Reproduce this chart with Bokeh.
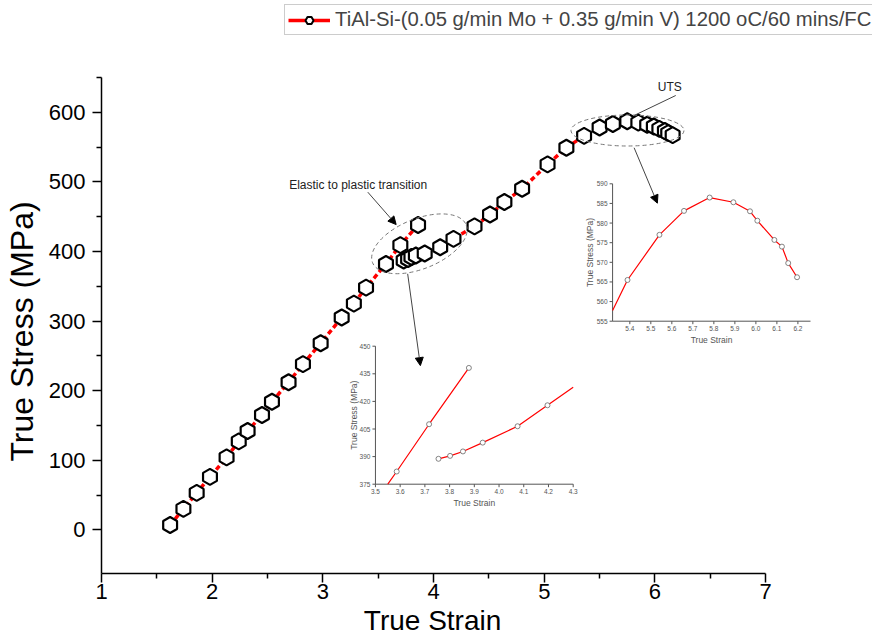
import math
from bokeh.plotting import figure
from bokeh.models import Range1d, FixedTicker, Legend, LegendItem, Arrow, NormalHead, Label
from bokeh.embed import file_html
from bokeh.resources import INLINE

# ---------------- data ----------------
# main curve, elastic branch
strain_elastic = [1.62, 1.74, 1.86, 1.98, 2.13, 2.24, 2.32, 2.45, 2.54, 2.69,
                  2.82, 2.98, 3.17, 3.28, 3.39, 3.57, 3.70, 3.86]
stress_elastic = [7, 30, 53, 76, 104, 127, 142, 165, 184, 212,
                  238, 268, 305, 325, 348, 382, 409, 438]
# main curve, plastic branch
strain_plastic = [3.73, 3.77, 3.80, 3.84, 3.92, 4.06, 4.18, 4.37, 4.51, 4.64,
                  4.80, 5.03, 5.20, 5.36, 5.50, 5.62, 5.75, 5.85, 5.93, 5.99,
                  6.04, 6.09, 6.12, 6.16]
stress_plastic = [387, 389, 392, 394, 397, 406, 418, 436, 453, 471,
                  490, 525, 549, 566, 578, 583, 587, 585, 582, 579.5,
                  576, 573, 570, 567]

x_ticks = [1, 2, 3, 4, 5, 6, 7]
x_minor = [1.5, 2.5, 3.5, 4.5, 5.5, 6.5]
y_ticks = [0, 100, 200, 300, 400, 500, 600]
y_minor = [50, 150, 250, 350, 450, 550, 650]

# inset 1: elastic-to-plastic transition
el_up_strain = [3.586, 3.717, 3.878]
el_up_stress = [381.9, 407.6, 438.2]
el_up_line_strain = [3.55, 3.586, 3.717, 3.878]
el_up_line_stress = [375.0, 381.9, 407.6, 438.2]
el_lo_strain = [3.755, 3.802, 3.854, 3.934, 4.075, 4.196]
el_lo_stress = [388.8, 390.4, 392.8, 397.6, 406.5, 417.9]
el_lo_line_strain = [3.755, 3.802, 3.854, 3.934, 4.075, 4.196, 4.30]
el_lo_line_stress = [388.8, 390.4, 392.8, 397.6, 406.5, 417.9, 427.7]
el_x_ticks = [3.5, 3.6, 3.7, 3.8, 3.9, 4.0, 4.1, 4.2, 4.3]
el_x_labels = ["3.5", "3.6", "3.7", "3.8", "3.9", "4.0", "4.1", "4.2", "4.3"]
el_y_ticks = [375, 390, 405, 420, 435, 450]
el_y_labels = ["375", "390", "405", "420", "435", "450"]

# inset 2: UTS region
uts_strain = [5.389, 5.541, 5.658, 5.780, 5.893, 5.972, 6.007, 6.088, 6.124, 6.154, 6.196]
uts_stress = [565.5, 577.0, 583.1, 586.5, 585.3, 583.0, 580.6, 575.7, 574.0, 569.8, 566.2]
uts_line_strain = [5.318] + uts_strain
uts_line_stress = [557.7] + uts_stress
uts_x_ticks = [5.4, 5.5, 5.6, 5.7, 5.8, 5.9, 6.0, 6.1, 6.2]
uts_x_labels = ["5.4", "5.5", "5.6", "5.7", "5.8", "5.9", "6.0", "6.1", "6.2"]
uts_y_ticks = [555, 560, 565, 570, 575, 580, 585, 590]
uts_y_labels = ["555", "560", "565", "570", "575", "580", "585", "590"]

LEGEND_TEXT = "TiAl-Si-(0.05 g/min Mo + 0.35 g/min V) 1200 oC/60 mins/FC"
X_TITLE = "True Strain"
Y_TITLE = "True Stress (MPa)"

# ---------------- layout ----------------
FONT = "Liberation Sans"
NBSP = "\u00a0"
W, H = 872, 638
LEFT, BOTTOM = 100, 65
FW, FH = W - LEFT, H - BOTTOM
PXX = 110.83   # px per strain unit (main)
PXY = 0.696    # px per MPa (main)
X0 = 1.0
Y0 = (529.3 - (H - BOTTOM)) / PXY   # stress value at the x-axis line

p = figure(width=W, height=H, title=None,
           x_range=Range1d(X0, X0 + FW / PXX), y_range=Range1d(Y0, Y0 + FH / PXY),
           min_border_left=LEFT, min_border_right=0, min_border_top=0,
           min_border_bottom=BOTTOM, output_backend="svg", toolbar_location=None)
p.grid.visible = False
p.outline_line_color = None

for ax in (p.xaxis[0], p.yaxis[0]):
    ax.axis_line_width = 1.5
    ax.axis_line_color = "black"
    ax.major_tick_line_color = "black"
    ax.minor_tick_line_color = "black"
    ax.major_tick_line_width = 1.5
    ax.minor_tick_line_width = 1.5
    ax.major_tick_out = 9
    ax.major_tick_in = 0
    ax.minor_tick_out = 5
    ax.minor_tick_in = 0
    ax.major_label_text_font = FONT
    ax.major_label_text_font_size = "22px"
    ax.major_label_text_color = "black"
    ax.axis_label_text_font = FONT
    ax.axis_label_text_font_style = "normal"
    ax.axis_label_text_color = "black"

# axis titles are centred on the frame; non-breaking padding moves them
# to the centre of the drawn axis line, as in the reference
p.xaxis.ticker = FixedTicker(ticks=x_ticks, minor_ticks=x_minor)
p.xaxis.bounds = (1, 7)
p.xaxis.axis_label = X_TITLE + NBSP * 14
p.xaxis.axis_label_text_font_size = "28px"
p.xaxis.major_label_standoff = 1
p.xaxis.axis_label_standoff = 3

p.yaxis.ticker = FixedTicker(ticks=y_ticks, minor_ticks=y_minor)
p.yaxis.bounds = (Y0, 650)
p.yaxis.axis_label = Y_TITLE + NBSP * 10
p.yaxis.axis_label_text_font_size = "32px"
p.yaxis.major_label_standoff = 7
p.yaxis.axis_label_standoff = 6

# ---------------- main series ----------------
RED = "#ff0000"
for xs, ys in ((strain_elastic, stress_elastic), (strain_plastic, stress_plastic)):
    p.line(xs, ys, line_color=RED, line_width=3.5, line_dash="5 3")
for xs, ys in ((strain_elastic, stress_elastic), (strain_plastic, stress_plastic)):
    p.scatter(xs, ys, marker="hex", size=16, angle=math.pi / 6,
              line_color="black", line_width=2.2, fill_color="white")

# legend sample (solid line + hexagon); the renderers hold no visible data
NAN = float("nan")
leg_line = p.line(x=[NAN, NAN], y=[NAN, NAN], line_color=RED, line_width=3.5)
leg_hex = p.scatter(x=[NAN], y=[NAN], marker="hex", size=14, angle=math.pi / 6,
                    line_color="black", line_width=2, fill_color="white")
legend = Legend(items=[LegendItem(label=LEGEND_TEXT, renderers=[leg_line, leg_hex])],
                location=(183, 538), border_line_color="#9a9a9a", border_line_width=1,
                glyph_width=42, glyph_height=20, label_height=20,
                label_text_font=FONT, label_text_font_size="20.3px",
                padding=3, margin=0, label_standoff=5, spacing=0)
p.add_layout(legend)

# ---------------- annotations on main plot ----------------
ANN = "#444444"
p.ellipse(x=[5.752], y=[573.7], width=113, height=31, width_units="screen",
          height_units="screen", angle=0, fill_color=None, line_color="#777777",
          line_dash="4 3", line_width=1)
p.ellipse(x=[3.872], y=[410.9], width=101, height=50, width_units="screen",
          height_units="screen", angle=math.radians(22), fill_color=None,
          line_color="#777777", line_dash="4 3", line_width=1)

p.add_layout(Label(x=6.134, y=636.9, text="UTS", text_font=FONT, text_font_size="12px",
                   text_align="center", text_baseline="middle", text_color="#222222"))
p.add_layout(Label(x=3.319, y=494.7, text="Elastic to plastic transition", text_font=FONT,
                   text_font_size="12px", text_align="center", text_baseline="middle",
                   text_color="#222222"))
p.add_layout(Arrow(x_start=6.188, y_start=624.0, x_end=5.812, y_end=595.3, end=None,
                   line_color=ANN, line_width=1))
p.add_layout(Arrow(x_start=5.812, y_start=548.9, x_end=6.022, y_end=469.3,
                   end=NormalHead(size=8, fill_color="black", line_color="black"),
                   line_color=ANN, line_width=1))
p.add_layout(Arrow(x_start=3.406, y_start=485.1, x_end=3.662, y_end=438.6,
                   end=NormalHead(size=8, fill_color="black", line_color="black"),
                   line_color=ANN, line_width=1))
p.add_layout(Arrow(x_start=3.766, y_start=367.8, x_end=3.881, y_end=235.9,
                   end=NormalHead(size=8, fill_color="black", line_color="black"),
                   line_color=ANN, line_width=1))


# ---------------- insets ----------------
def anchored_range(v0, p0, v1, p1, lo, hi, flip=False):
    """range so that value v0 sits at page pixel p0 and v1 at p1; frame spans lo..hi"""
    k = abs((p1 - p0) / (v1 - v0))
    if flip:
        start = v0 - (hi - p0) / k
    else:
        start = v0 - (p0 - lo) / k
    return Range1d(start, start + (hi - lo) / k), k


FRAME_L, FRAME_R = LEFT, W
FRAME_T, FRAME_B = 0, H - BOTTOM


def draw_inset(name, xpix, ypix, xb, yb, xt, xl, yt, yl, xlab_dy, ylab_dx,
               lines, pts, tick_fs="6.5px", lab_fs="8.5px"):
    xr, kx = anchored_range(xpix[0], xpix[1], xpix[2], xpix[3], FRAME_L, FRAME_R)
    yr, ky = anchored_range(ypix[0], ypix[1], ypix[2], ypix[3], FRAME_T, FRAME_B, flip=True)
    p.extra_x_ranges[name + "x"] = xr
    p.extra_y_ranges[name + "y"] = yr
    kw = dict(x_range_name=name + "x", y_range_name=name + "y")
    col = "#555555"
    p.segment(x0=[xb[0], xb[0]], y0=[yb[0], yb[0]], x1=[xb[1], xb[0]], y1=[yb[0], yb[1]],
              line_color=col, line_width=1, **kw)
    p.ray(x=xt, y=[yb[0]] * len(xt), length=3, length_units="screen",
          angle=-math.pi / 2, line_color=col, line_width=1, **kw)
    p.ray(x=[xb[0]] * len(yt), y=yt, length=3, length_units="screen",
          angle=math.pi, line_color=col, line_width=1, **kw)
    p.text(x=xt, y=[yb[0] - 5 / ky] * len(xt), text=xl, text_align="center",
           text_baseline="top", text_font_size=tick_fs, text_color=col, **kw)
    p.text(x=[xb[0] - 5 / kx] * len(yt), y=yt, text=yl, text_align="right",
           text_baseline="middle", text_font_size=tick_fs, text_color=col, **kw)
    p.text(x=[(xb[0] + xb[1]) / 2], y=[yb[0] - xlab_dy / ky], text=[X_TITLE],
           text_align="center", text_baseline="middle", text_font_size=lab_fs,
           text_color=col, **kw)
    p.text(x=[xb[0] - ylab_dx / kx], y=[(yb[0] + yb[1]) / 2], text=[Y_TITLE],
           text_align="center", text_baseline="middle", angle=math.pi / 2,
           text_font_size=lab_fs, text_color=col, **kw)
    for lx, ly in lines:
        p.line(lx, ly, line_color=RED, line_width=1.2, **kw)
    for sx, sy in pts:
        p.scatter(sx, sy, marker="circle", size=5, line_color="#666666", line_width=0.8,
                  fill_color="white", **kw)


draw_inset("el", (3.5, 374.3, 4.3, 572.3), (375, 483.7, 450, 345.7),
           (3.5, 4.3), (375, 450), el_x_ticks, el_x_labels, el_y_ticks, el_y_labels,
           18.6, 21.6,
           [(el_up_line_strain, el_up_line_stress), (el_lo_line_strain, el_lo_line_stress)],
           [(el_up_strain, el_up_stress), (el_lo_strain, el_lo_stress)])

draw_inset("uts", (5.4, 629.0, 6.2, 797.3), (555, 320.7, 590, 183.3),
           (5.318, 6.26), (555, 590), uts_x_ticks, uts_x_labels, uts_y_ticks, uts_y_labels,
           18.6, 22.4,
           [(uts_line_strain, uts_line_stress)],
           [(uts_strain, uts_stress)])

open("out.html", "w").write(file_html(p, INLINE))
